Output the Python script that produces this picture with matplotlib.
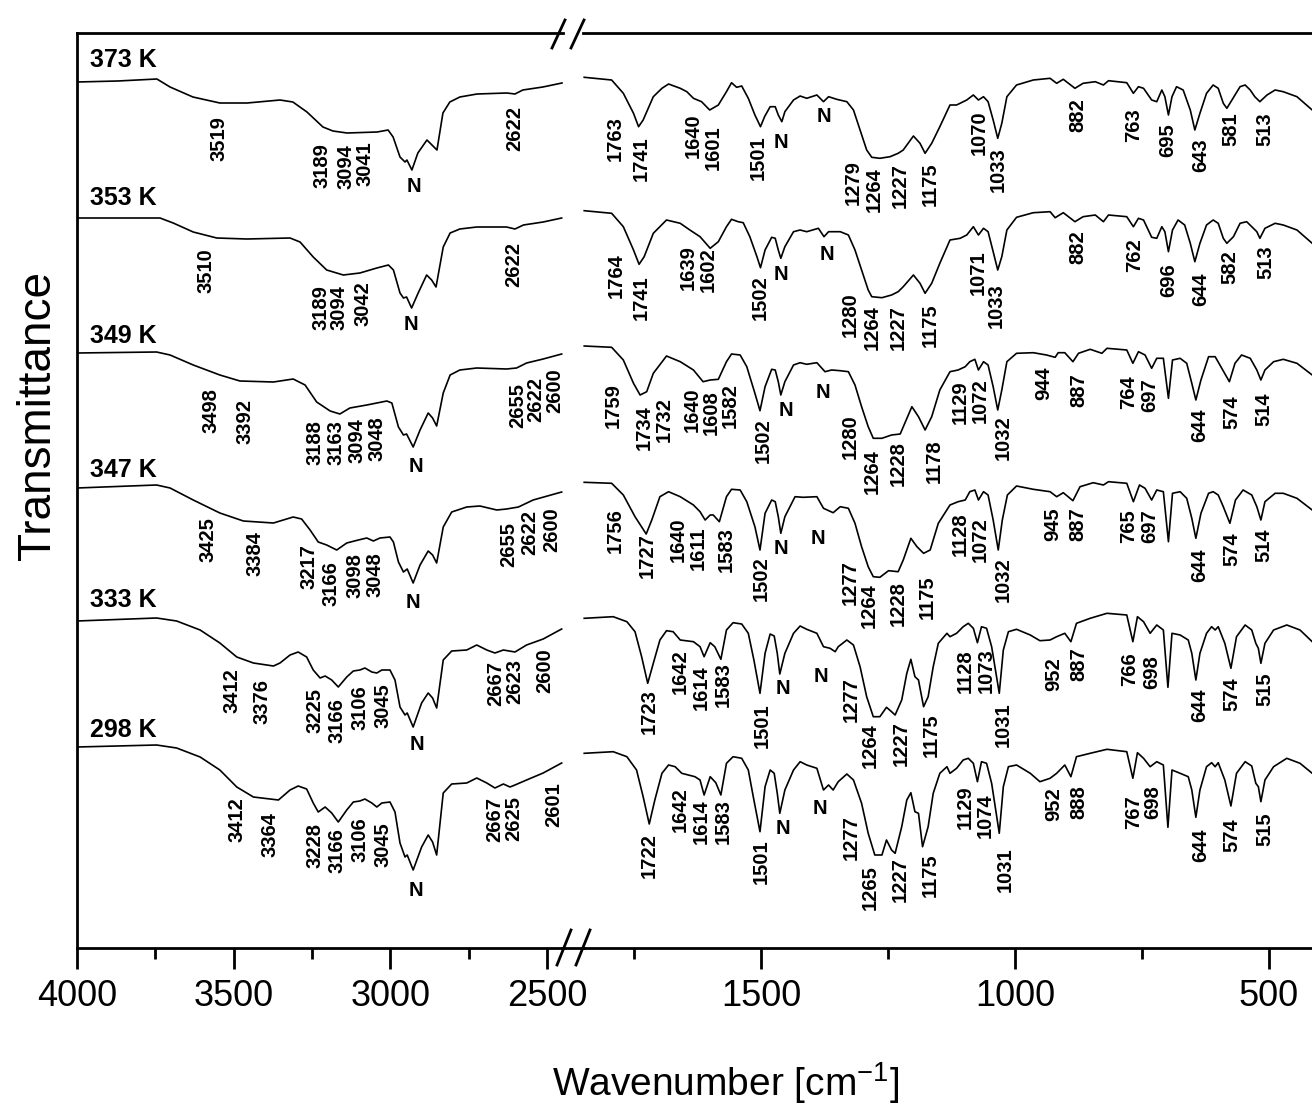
import numpy as np
import matplotlib
matplotlib.use("Agg")
import matplotlib.pyplot as plt
from matplotlib.lines import Line2D
from matplotlib import font_manager as fm

plt.rcParams['font.family'] = ['Liberation Sans', 'DejaVu Sans']
plt.rcParams['mathtext.default'] = 'regular'
try:
    fm.findfont(fm.FontProperties(family='Liberation Sans Narrow'), fallback_to_default=False)
    HAS_NARROW = True
except Exception:
    HAS_NARROW = False
NARROW = ['Liberation Sans Narrow', 'Liberation Sans'] if HAS_NARROW else ['Liberation Sans']

temps = ["373 K", "353 K", "349 K", "347 K", "333 K", "298 K"]

# ---------------- 373 K ----------------
wn_hi_373 = [4000, 3870, 3745, 3703, 3630, 3544, 3457, 3352, 3311, 3266, 3215, 3183, 3138, 3042, 3007,
             2991, 2969, 2953, 2947, 2931, 2912, 2883, 2867, 2851, 2832, 2810, 2778, 2723, 2628, 2602,
             2577, 2513, 2452]
t_hi_373 = [0, 1, 3, -5, -15, -21, -21, -18, -20, -30, -45, -49, -51, -50, -48,
            -55, -75, -80, -78, -88, -71, -58, -63, -68, -31, -20, -15, -12, -11, -12,
            -8, -5, -1]
wn_lo_373 = [1848, 1794, 1771, 1751, 1741, 1732, 1712, 1695, 1682, 1659, 1646, 1633, 1617, 1601, 1584,
             1568, 1558, 1548, 1538, 1525, 1512, 1501, 1493, 1482, 1472, 1466, 1459, 1453, 1436, 1423,
             1410, 1390, 1377, 1367, 1351, 1331, 1318, 1305, 1292, 1282, 1266, 1246, 1230, 1220, 1200,
             1187, 1177, 1164, 1148, 1128, 1115, 1095, 1082, 1072, 1062, 1053, 1043, 1034, 1026, 1016,
             997, 964, 931, 918, 905, 882, 866, 842, 826, 816, 780, 767, 757, 747, 731,
             721, 711, 705, 698, 691, 682, 669, 655, 646, 636, 623, 610, 600, 590, 583,
             573, 557, 547, 537, 528, 518, 504, 488, 472, 445, 415]
t_lo_373 = [4.7, 2, -11.3, -31.3, -44.7, -38, -14.7, -6.3, -2, -6.3, -9.7, -16.3, -19.7, -28, -23,
            -9.7, -0.7, -5.3, -4, -16.3, -33, -44.7, -34.7, -24.7, -24.7, -33, -39.7, -29.7, -18, -14,
            -16.3, -13, -19.7, -14.7, -17.3, -19.7, -28, -48, -68, -75.3, -76.3, -74.7, -71.3, -68, -54,
            -61.3, -71.3, -61.3, -44.7, -23, -23, -18, -13, -18, -14.7, -19.7, -38, -56.3, -41.3, -14.7,
            -3, 2, 3.7, -1.3, 2.7, -6.3, -1.3, 0.3, -3, 1.3, -0.7, -11.3, -4.7, -6.3, -18,
            -19.7, -8, -14.7, -33, -14.7, -4.7, -8, -28, -48, -31.3, -11.3, -3, -6.3, -21.3, -26.3,
            -18, -4.7, -3, -8, -14.7, -19.7, -13, -8, -9.7, -14.7, -28]
pk_hi_373 = [("3519", 3546, -34), ("3189", 3219, -61), ("3094", 3141, -62), ("3041", 3081, -59),
             ("2622", 2602, -24)]
n_hi_373 = [(2924, -104)]
pk_lo_373 = [("1763", 1787, -34), ("1741", 1735, -54), ("1640", 1634, -31), ("1601", 1594, -43),
             ("1501", 1505, -53), ("1279", 1318, -78), ("1264", 1278, -85), ("1227", 1226, -81),
             ("1175", 1166, -80), ("1070", 1070, -28), ("1033", 1033, -65), ("882", 877, -16),
             ("763", 767, -26), ("695", 700, -41), ("643", 635, -56), ("581", 575, -30), ("513", 508, -30)]
n_lo_373 = [(1461, -60), (1377, -35)]

# ---------------- 353 K ----------------
wn_hi_353 = [4000, 3735, 3693, 3629, 3554, 3458, 3320, 3288, 3246, 3203, 3150, 3097, 3043, 3006, 2990,
             2969, 2958, 2948, 2932, 2911, 2884, 2868, 2854, 2831, 2809, 2778, 2724, 2629, 2602, 2575,
             2512, 2453]
t_hi_353 = [0, 0, -5, -14, -20, -21, -20, -24, -39, -52, -57, -55, -50, -47, -52,
            -75, -80, -79, -90, -75, -57, -62, -69, -29, -15, -11, -9, -9, -11, -7,
            -4, 0]
wn_lo_353 = [1848, 1794, 1771, 1751, 1740, 1730, 1712, 1686, 1659, 1640, 1620, 1600, 1584, 1568, 1558,
             1545, 1535, 1522, 1508, 1501, 1492, 1479, 1472, 1466, 1461, 1453, 1436, 1423, 1410, 1387,
             1376, 1367, 1344, 1328, 1315, 1302, 1289, 1282, 1262, 1243, 1230, 1220, 1200, 1187, 1177,
             1164, 1148, 1128, 1108, 1095, 1082, 1072, 1062, 1053, 1043, 1034, 1026, 1016, 997, 964,
             931, 921, 905, 882, 866, 842, 826, 816, 780, 767, 757, 747, 731, 721, 711,
             705, 698, 690, 679, 666, 655, 646, 636, 623, 610, 600, 590, 583, 570, 557,
             544, 534, 524, 518, 508, 488, 472, 445, 415]
t_lo_353 = [7.3, 4.7, -8.7, -32, -46.3, -38.7, -15.3, -2, -5.3, -12, -18.7, -30.3, -23.7, -8.7, -1.3,
            -3.7, -4.7, -18.7, -38.7, -49.7, -32, -19.3, -20.3, -32, -40.3, -28.7, -13.7, -12, -13.7, -10.3,
            -18.7, -13.7, -13.7, -17, -32, -52, -72, -78.7, -79.7, -77, -73.7, -68.7, -57, -65.3, -75.3,
            -65.3, -45.3, -22, -20.3, -17, -8.7, -17, -10.3, -13.7, -33.7, -52, -38.7, -12, 0.7, 5.3,
            6.3, 0.3, 5.3, -3.7, 1.3, 3, -3.7, 3, 1.3, -8.7, -0.3, -2, -19.3, -20.3, -8.7,
            -13.7, -33.7, -12, -2, -7, -25.3, -43.7, -25.3, -7, -2, -5.3, -20.3, -25.3, -18.7, -5.3,
            -3.7, -8.7, -13.7, -20.3, -10.3, -5.3, -7, -12, -25.3]
pk_hi_353 = [("3510", 3588, -30), ("3189", 3222, -67), ("3094", 3163, -67), ("3042", 3088, -63),
             ("2622", 2607, -24)]
n_hi_353 = [(2935, -106)]
pk_lo_353 = [("1764", 1784, -35), ("1741", 1735, -57), ("1639", 1643, -27), ("1602", 1604, -29),
             ("1502", 1502, -57), ("1280", 1325, -74), ("1264", 1282, -87), ("1227", 1230, -87),
             ("1175", 1166, -85), ("1071", 1072, -32), ("1033", 1036, -65), ("882", 877, -12),
             ("762", 764, -20), ("696", 698, -45), ("644", 635, -55), ("582", 577, -32), ("513", 506, -27)]
n_lo_353 = [(1461, -57), (1371, -37)]

# ---------------- 349 K ----------------
wn_hi_349 = [4000, 3746, 3703, 3629, 3544, 3480, 3373, 3310, 3272, 3235, 3192, 3161, 3129, 3075, 3011,
             2995, 2974, 2958, 2948, 2927, 2905, 2879, 2865, 2852, 2831, 2809, 2778, 2724, 2629, 2597,
             2565, 2512, 2453]
t_hi_349 = [0, 1, -2, -12, -22, -28, -29, -26, -32, -49, -58, -61, -55, -52, -48,
            -50, -74, -82, -81, -94, -77, -60, -65, -73, -40, -22, -17, -15, -16, -15,
            -10, -6, -1]
wn_lo_349 = [1848, 1794, 1771, 1751, 1738, 1725, 1712, 1686, 1659, 1633, 1614, 1600, 1584, 1568, 1558,
             1541, 1528, 1512, 1502, 1492, 1479, 1472, 1466, 1461, 1453, 1436, 1423, 1410, 1390, 1374,
             1361, 1344, 1328, 1315, 1302, 1289, 1279, 1262, 1243, 1226, 1217, 1203, 1190, 1177, 1164,
             1148, 1128, 1112, 1098, 1089, 1079, 1072, 1062, 1053, 1043, 1034, 1026, 1016, 997, 964,
             938, 921, 915, 902, 886, 875, 852, 829, 819, 780, 768, 757, 744, 731, 721,
             708, 698, 690, 675, 662, 652, 644, 634, 619, 606, 593, 578, 567, 554, 537,
             524, 516, 508, 491, 472, 445, 415]
t_lo_349 = [7, 5.7, -7, -30.3, -42, -38.7, -20.3, -3, -8.7, -17, -28.7, -27, -26.3, -8.7, -1,
            -2, -13.7, -40.3, -57.7, -33.7, -16.3, -17, -28.7, -42, -28.7, -12, -9.7, -11.3, -9.7, -18.7,
            -17, -17.7, -18.7, -32, -53.7, -73.7, -85.3, -85.3, -82, -81, -70.3, -53.7, -63.7, -77, -63.7,
            -37, -18.7, -17, -13.7, -8.7, -6.3, -17, -8.7, -12, -33.7, -57, -37, -8.7, -0.3, 0.3,
            -2, -4.3, 0.3, 0.3, -8.7, -0.3, 3.7, -0.3, 4.7, 3, -10.3, 1.3, -2, -15.3, -5.3,
            -5.3, -45.3, -7, -5.3, -10.3, -30.3, -47, -27, -3.7, -3.7, -15.3, -28.7, -10.3, -2, -5.3,
            -17, -27, -17, -8.7, -6.3, -10.3, -22]
pk_hi_349 = [("3498", 3572, -35), ("3392", 3464, -46), ("3188", 3240, -67), ("3163", 3173, -67),
             ("3094", 3107, -65), ("3048", 3043, -63), ("2655", 2594, -30), ("2622", 2535, -24),
             ("2600", 2474, -15)]
n_hi_349 = [(2918, -113)]
pk_lo_349 = [("1759", 1791, -30), ("1734", 1730, -52), ("1732", 1691, -44), ("1640", 1636, -34),
             ("1608", 1597, -37), ("1582", 1560, -30), ("1502", 1496, -65), ("1280", 1325, -61),
             ("1264", 1282, -96), ("1228", 1230, -88), ("1178", 1159, -86), ("1129", 1107, -27),
             ("1072", 1069, -25), ("1032", 1023, -62), ("944", 944, -14), ("887", 875, -20),
             ("764", 777, -22), ("697", 734, -25), ("644", 636, -55), ("574", 573, -42), ("514", 511, -39)]
n_lo_349 = [(1451, -58), (1379, -39)]

# ---------------- 347 K ----------------
wn_hi_347 = [4000, 3746, 3703, 3629, 3544, 3469, 3373, 3310, 3283, 3256, 3230, 3203, 3171, 3139, 3102,
             3075, 3054, 3033, 3001, 2990, 2974, 2958, 2946, 2927, 2905, 2879, 2865, 2852, 2831, 2804,
             2756, 2714, 2660, 2629, 2591, 2544, 2453]
t_hi_347 = [0, 3, 0, -12, -25, -33, -35, -29, -31, -42, -54, -57, -62, -55, -52,
            -50, -53, -50, -49, -54, -74, -84, -81, -95, -77, -63, -67, -75, -39, -24,
            -19, -18, -22, -21, -19, -12, -4]
wn_lo_347 = [1848, 1794, 1771, 1748, 1726, 1715, 1699, 1682, 1659, 1633, 1620, 1610, 1600, 1594, 1582,
             1568, 1558, 1541, 1528, 1512, 1502, 1492, 1479, 1472, 1466, 1461, 1453, 1433, 1417, 1390,
             1377, 1358, 1344, 1328, 1315, 1302, 1289, 1279, 1266, 1249, 1230, 1220, 1205, 1193, 1180,
             1167, 1151, 1128, 1112, 1098, 1089, 1079, 1072, 1062, 1053, 1043, 1033, 1025, 1015, 997,
             964, 931, 918, 905, 886, 872, 846, 826, 816, 780, 767, 755, 744, 731, 721,
             708, 698, 690, 675, 662, 652, 644, 634, 619, 610, 600, 590, 577, 566, 551,
             534, 524, 516, 508, 488, 472, 445, 415]
t_lo_347 = [5.7, 4.7, -7, -28.7, -46, -32, -8.7, -3.7, -8.7, -17, -23.7, -32, -27, -27, -33.7,
            -8.7, -1.3, -2, -13.7, -38.7, -62, -25.3, -12, -13.7, -28.7, -45.3, -28.7, -8.7, -9.3, -8.7,
            -20.3, -24.7, -18.7, -20.3, -35.3, -58.7, -78.7, -88.7, -89.3, -82.7, -83.7, -72, -50.3, -58.7, -65.3,
            -62, -35.3, -17, -13.7, -12, -3.7, -2, -12, -3.7, -7, -32, -62, -32, -7, 2,
            -1.3, -3.7, -8.7, -4.7, -12.7, 1.3, 5.3, 3, 6.3, 4.7, -13.7, 3, -0.3, -12, -2,
            -3.7, -53.7, -5.3, -3.7, -10.3, -30.3, -50.3, -25.3, -5.3, -3.7, -7, -18.7, -35.3, -12, -2,
            -7, -18.7, -32, -13.7, -5.3, -5.3, -10.3, -22]
pk_hi_347 = [("3425", 3581, -29), ("3384", 3432, -43), ("3217", 3259, -56), ("3166", 3190, -73),
             ("3098", 3113, -65), ("3048", 3049, -64), ("2655", 2623, -34), ("2622", 2556, -22),
             ("2600", 2485, -19)]
n_hi_347 = [(2927, -114)]
pk_lo_347 = [("1756", 1787, -20), ("1727", 1724, -45), ("1640", 1663, -29), ("1611", 1623, -39),
             ("1583", 1568, -39), ("1502", 1499, -68), ("1277", 1325, -72), ("1264", 1287, -95),
             ("1228", 1230, -93), ("1175", 1173, -87), ("1128", 1108, -24), ("1072", 1069, -29),
             ("1032", 1023, -69), ("945", 926, -19), ("887", 877, -19), ("765", 777, -21),
             ("697", 734, -21), ("644", 636, -60), ("574", 573, -44), ("514", 511, -40)]
n_lo_347 = [(1461, -60), (1387, -50)]

# ---------------- 333 K ----------------
wn_hi_333 = [4000, 3746, 3682, 3607, 3544, 3490, 3437, 3373, 3352, 3320, 3294, 3267, 3246, 3224, 3208,
             3187, 3166, 3139, 3118, 3097, 3081, 3059, 3043, 3027, 3001, 2985, 2969, 2953, 2946, 2927,
             2900, 2879, 2865, 2852, 2831, 2804, 2756, 2724, 2692, 2666, 2639, 2602, 2565, 2512, 2453]
t_hi_333 = [0, 3, 0, -9, -22, -36, -42, -45, -42, -34, -31, -36, -49, -57, -55,
            -59, -66, -56, -50, -49, -47, -51, -52, -49, -49, -59, -86, -94, -92, -106,
            -82, -72, -77, -87, -39, -30, -29, -24, -29, -32, -29, -31, -24, -18, -8]
wn_lo_333 = [1848, 1791, 1764, 1748, 1735, 1723, 1712, 1699, 1686, 1673, 1659, 1633, 1620, 1612, 1600,
             1591, 1579, 1568, 1555, 1538, 1525, 1514, 1502, 1492, 1482, 1474, 1468, 1463, 1453, 1436,
             1423, 1410, 1390, 1377, 1364, 1354, 1348, 1331, 1318, 1305, 1292, 1279, 1266, 1253, 1243,
             1236, 1223, 1213, 1205, 1197, 1190, 1180, 1171, 1161, 1151, 1134, 1128, 1115, 1102, 1092,
             1082, 1074, 1066, 1056, 1046, 1031, 1023, 1013, 997, 970, 951, 931, 918, 902, 890,
             879, 852, 819, 780, 768, 759, 747, 734, 721, 708, 699, 691, 675, 659, 652,
             644, 636, 623, 613, 606, 600, 587, 575, 564, 547, 534, 526, 521, 516, 508,
             491, 465, 439, 415]
t_lo_333 = [2.7, 4.3, -0.7, -10.7, -35.7, -62.3, -42.3, -19, -9.7, -10.7, -19, -20.7, -25.7, -35.7, -21.7,
            -25.7, -38.3, -9, -1.7, -3, -12.3, -39, -72.3, -32.3, -13, -15, -32.3, -53, -32.3, -12.3,
            -5, -8.3, -12.3, -25.7, -27.3, -30.7, -25.7, -19, -24, -45.7, -75.7, -95.7, -95.7, -86.3, -90.7,
            -94, -79, -52.3, -38.3, -55.7, -59, -85.7, -75.7, -45.7, -22.3, -12.3, -15.7, -12.3, -5.7, -2.3,
            -7.3, -21.7, -5.7, -7.3, -25.7, -72.3, -29, -10.7, -8.3, -14, -19.7, -19, -15.7, -12.3, -20.7,
            -2.3, 2.7, 7.7, 6, -20.7, 4.3, -0.7, -12.3, -4, -9, -66.3, -12.3, -14, -19, -32.3,
            -59, -32.3, -12.3, -5.7, -9, -5.7, -22.3, -47.3, -15.7, -4, -9, -22.3, -27.3, -42.3, -22.3,
            -9, -4, -9, -20.7]
pk_hi_333 = [("3412", 3506, -47), ("3376", 3410, -58), ("3225", 3240, -67), ("3166", 3171, -77),
             ("3106", 3097, -64), ("3045", 3024, -62), ("2667", 2664, -40), ("2623", 2602, -38),
             ("2600", 2508, -27)]
n_hi_333 = [(2914, -123)]
pk_lo_333 = [("1723", 1719, -68), ("1642", 1659, -28), ("1614", 1618, -44), ("1583", 1574, -41),
             ("1501", 1497, -82), ("1277", 1322, -56), ("1264", 1285, -102), ("1227", 1223, -100),
             ("1175", 1164, -92), ("1128", 1098, -28), ("1073", 1057, -27), ("1031", 1023, -81),
             ("952", 923, -36), ("887", 875, -26), ("766", 774, -31), ("698", 731, -34),
             ("644", 636, -67), ("574", 573, -56), ("515", 508, -51)]
n_lo_333 = [(1456, -68), (1383, -56)]

# ---------------- 298 K ----------------
wn_hi_298 = [4000, 3746, 3682, 3607, 3544, 3490, 3437, 3357, 3320, 3294, 3267, 3246, 3230, 3208, 3187,
             3166, 3139, 3118, 3097, 3081, 3059, 3043, 3027, 3001, 2985, 2969, 2953, 2946, 2927, 2900,
             2879, 2865, 2852, 2831, 2804, 2756, 2724, 2692, 2666, 2639, 2618, 2602, 2565, 2512, 2453]
t_hi_298 = [0, 2, -1, -10, -23, -40, -50, -53, -43, -39, -42, -56, -65, -60, -66,
            -75, -63, -55, -54, -52, -56, -60, -56, -55, -65, -96, -110, -108, -123, -100,
            -88, -95, -108, -46, -37, -36, -31, -36, -41, -37, -40, -38, -33, -26, -16]
wn_lo_298 = [1848, 1791, 1764, 1745, 1732, 1720, 1709, 1695, 1682, 1669, 1656, 1630, 1620, 1612, 1600,
             1589, 1579, 1568, 1555, 1538, 1525, 1514, 1502, 1492, 1482, 1474, 1468, 1463, 1453, 1436,
             1423, 1410, 1390, 1377, 1367, 1358, 1348, 1331, 1318, 1302, 1289, 1276, 1262, 1253, 1243,
             1236, 1223, 1213, 1205, 1197, 1190, 1182, 1171, 1161, 1148, 1134, 1128, 1115, 1102, 1092,
             1082, 1074, 1066, 1056, 1046, 1031, 1023, 1013, 997, 970, 951, 931, 918, 902, 890,
             879, 852, 819, 780, 768, 759, 747, 734, 721, 708, 699, 691, 675, 659, 652,
             644, 636, 623, 613, 606, 600, 587, 575, 564, 547, 534, 526, 521, 516, 508,
             491, 465, 439, 415]
t_lo_298 = [-6.3, -4.7, -9.7, -23, -49.7, -77, -53, -26.3, -18, -19.7, -26.3, -29.7, -33, -48, -29.7,
            -35.7, -48, -16.3, -9.7, -11.3, -23, -53, -84.7, -39.7, -23, -26.3, -46.3, -66.3, -43, -23,
            -14.7, -18, -21.3, -43, -38, -43, -34.7, -27, -33, -56.3, -86.3, -108, -108, -93, -103,
            -106.3, -79.7, -53, -45.7, -64.7, -66.3, -99.7, -79.7, -46.3, -26.3, -19.7, -26.3, -21.3, -13, -11.3,
            -16.3, -34.7, -14.7, -16.3, -36.3, -86.3, -39.7, -19.7, -18, -26.3, -34.7, -31.3, -26.3, -18, -29.7,
            -9.7, -6.3, -2.3, -4.7, -31.3, -5.7, -11.3, -19.7, -14.7, -18, -80.3, -23, -26.3, -29.7, -43,
            -70.3, -43, -19.7, -15.7, -19.7, -15.7, -33, -59, -26.3, -14.7, -19, -36.3, -39.7, -54.7, -33,
            -19.7, -11.3, -16.3, -26.3]
pk_hi_298 = [("3412", 3490, -50), ("3364", 3384, -65), ("3228", 3240, -76), ("3166", 3169, -81),
             ("3106", 3097, -70), ("3045", 3024, -75), ("2667", 2666, -50), ("2625", 2605, -49),
             ("2601", 2477, -35)]
n_hi_298 = [(2918, -144)]
pk_lo_298 = [("1722", 1719, -86), ("1642", 1659, -40), ("1614", 1618, -52), ("1583", 1574, -52),
             ("1501", 1499, -92), ("1277", 1322, -68), ("1265", 1285, -118), ("1227", 1226, -110),
             ("1175", 1167, -106), ("1129", 1098, -38), ("1074", 1059, -46), ("1031", 1020, -100),
             ("952", 923, -40), ("888", 875, -38), ("767", 767, -48), ("698", 728, -38),
             ("644", 635, -81), ("574", 573, -71), ("515", 508, -65)]
n_lo_298 = [(1457, -82), (1384, -61)]

# vertical stacking offsets of the six spectra and their name-label heights
offsets = [866, 730, 595, 460, 327, 201]
name_dy = [15, 13, 10, 11, 14, 10]

spectra = [
    (wn_hi_373, t_hi_373, wn_lo_373, t_lo_373, pk_hi_373, n_hi_373, pk_lo_373, n_lo_373),
    (wn_hi_353, t_hi_353, wn_lo_353, t_lo_353, pk_hi_353, n_hi_353, pk_lo_353, n_lo_353),
    (wn_hi_349, t_hi_349, wn_lo_349, t_lo_349, pk_hi_349, n_hi_349, pk_lo_349, n_lo_349),
    (wn_hi_347, t_hi_347, wn_lo_347, t_lo_347, pk_hi_347, n_hi_347, pk_lo_347, n_lo_347),
    (wn_hi_333, t_hi_333, wn_lo_333, t_lo_333, pk_hi_333, n_hi_333, pk_lo_333, n_lo_333),
    (wn_hi_298, t_hi_298, wn_lo_298, t_lo_298, pk_hi_298, n_hi_298, pk_lo_298, n_lo_298),
]

# ---------------- figure ----------------
W, H = 1312, 1104
fig = plt.figure(figsize=(W / 100, H / 100), dpi=100)
fig.patch.set_facecolor('white')

def fx(p):
    return p / W

def fy(p):
    return 1 - p / H

top_px, bot_px = 33, 948
ax_l = fig.add_axes([fx(77), fy(bot_px), fx(562.6) - fx(77), (bot_px - top_px) / H])
ax_r = fig.add_axes([fx(583.2), fy(bot_px), fx(1312.2) - fx(583.2), (bot_px - top_px) / H])

ax_l.set_xlim(4000, 2450)
ax_r.set_xlim(1850, 415)
for ax in (ax_l, ax_r):
    ax.set_ylim(0, bot_px - top_px)
    ax.set_yticks([])
    for s in ax.spines.values():
        s.set_linewidth(2.0)
ax_l.spines['right'].set_visible(False)
ax_r.spines['left'].set_visible(False)
ax_r.spines['right'].set_visible(False)

ax_l.set_xticks([4000, 3500, 3000, 2500])
ax_l.set_xticks([3750, 3250, 2750], minor=True)
ax_r.set_xticks([1500, 1000, 500])
ax_r.set_xticks([1750, 1250, 750], minor=True)
tick_fs = 30 if HAS_NARROW else 26
for ax in (ax_l, ax_r):
    ax.tick_params(axis='x', which='major', direction='out', length=15, width=2, pad=7,
                   labelsize=tick_fs)
    ax.tick_params(axis='x', which='minor', direction='out', length=8, width=2)
    for lab in ax.get_xticklabels():
        lab.set_fontfamily(NARROW)

pk_fs = 14.5
for i, (wh, th, wl, tl, ph, nh, pl, nl) in enumerate(spectra):
    off = offsets[i]
    ax_l.plot(wh, np.array(th) + off, color='black', lw=1.2, solid_joinstyle='round')
    ax_r.plot(wl, np.array(tl) + off, color='black', lw=1.2, solid_joinstyle='round')
    ax_l.text(3958, off + name_dy[i], temps[i], ha='left', va='baseline',
              fontsize=18, fontweight='bold')
    for ax, pks, ns in ((ax_l, ph, nh), (ax_r, pl, nl)):
        for txt, x, y in pks:
            ax.text(x, off + y, txt, rotation=90, ha='center', va='top',
                    fontsize=pk_fs, fontweight='bold')
        for x, y in ns:
            ax.text(x, off + y, 'N', ha='center', va='center',
                    fontsize=pk_fs, fontweight='bold')

# axis-break decorations
lw_b = 2.0
fig.add_artist(Line2D([fx(562), fx(584)], [fy(bot_px), fy(bot_px)], color='black', lw=2.0))
for x0 in (552, 571):
    fig.add_artist(Line2D([fx(x0), fx(x0 + 13)], [fy(48), fy(20)], color='black', lw=lw_b))
for x0 in (557, 576):
    fig.add_artist(Line2D([fx(x0), fx(x0 + 14)], [fy(965), fy(930)], color='black', lw=lw_b))

# axis titles
fig.text(fx(38), fy(415), 'Transmittance', rotation=90, ha='center', va='center',
         fontsize=40 if HAS_NARROW else 33, family=NARROW)
fig.text(fx(726), fy(1096), 'Wavenumber [cm$^{-1}$]', ha='center', va='baseline',
         fontsize=33 if HAS_NARROW else 28, family=NARROW)

fig.savefig('out.png', dpi=100, facecolor='white')
